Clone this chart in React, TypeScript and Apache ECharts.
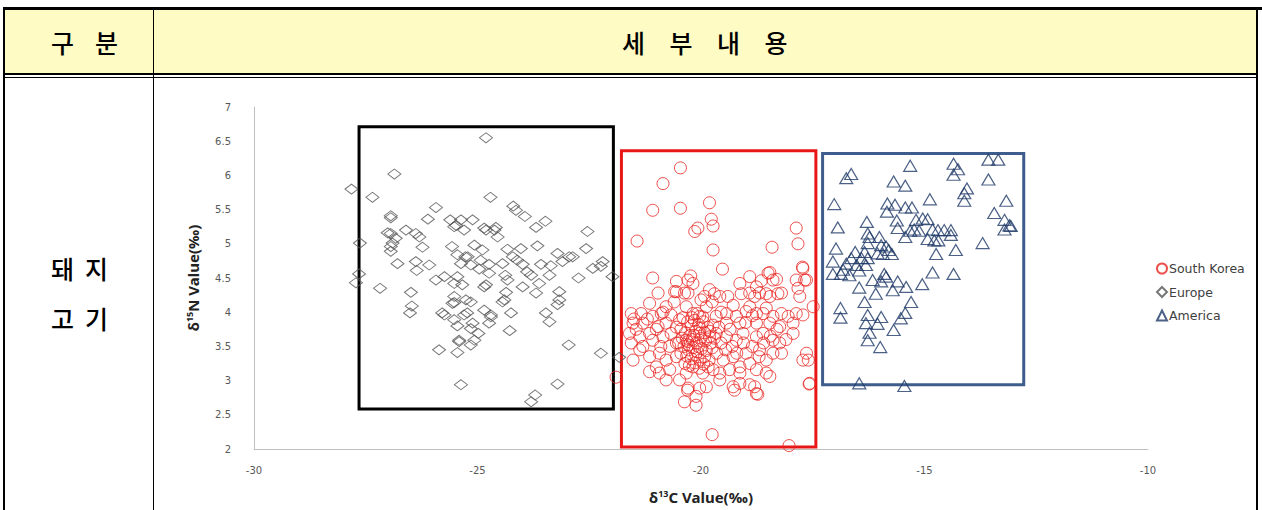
import React, { useEffect, useRef } from "react";
import * as echarts from "echarts";

// ---------- data (δ13C, δ15N) ----------
const seriesNames = ["South Korea", "Europe", "America"];

const southKorea: [number, number][] = [
  [-20.46, 6.11], [-20.85, 5.88], [-21.08, 5.49], [-20.46, 5.52], [-19.81, 5.6], [-19.77, 5.36], [-19.73, 5.26], [-20.14, 5.18], [-20.07, 5.23], [-21.43, 5.04],
  [-19.73, 4.91], [-17.87, 5.23], [-17.83, 5.0], [-18.41, 4.95], [-19.52, 4.63], [-17.73, 4.66], [-19.75, 2.21], [-18.03, 2.05],
  [-21.08, 4.5], [-20.55, 4.45], [-20.29, 4.47], [-20.18, 4.42], [-20.55, 4.3], [-20.29, 4.28], [-20.96, 4.28], [-21.15, 4.13], [-19.81, 4.33], [-19.92, 4.23],
  [-19.58, 4.23], [-19.13, 4.42], [-18.91, 4.52], [-18.76, 4.37], [-18.91, 4.28], [-18.5, 4.57], [-18.39, 4.47], [-18.2, 4.28], [-18.46, 4.23], [-18.69, 4.28],
  [-17.87, 4.47], [-17.72, 4.64], [-17.64, 4.47], [-17.83, 4.35], [-17.79, 4.23], [-17.49, 4.08],
  [-20.59, 4.3], [-20.37, 4.28], [-19.7, 4.27], [-19.4, 4.23], [-19.1, 4.27], [-18.8, 4.23], [-18.54, 4.27], [-18.28, 4.27],
  [-20.23, 4.53], [-18.65, 4.46], [-18.46, 4.58], [-18.31, 4.48], [-17.68, 4.47],
  [-21.56, 3.98], [-21.34, 3.98], [-21.52, 3.84], [-21.3, 3.84], [-21.08, 3.94], [-20.89, 3.98], [-20.67, 3.96], [-20.96, 3.79], [-20.78, 3.84], [-20.48, 3.89],
  [-20.18, 3.98], [-20.03, 3.94], [-19.66, 3.94], [-19.43, 3.98], [-19.21, 3.94], [-18.99, 4.01], [-18.76, 3.98], [-18.61, 3.98], [-18.39, 3.94], [-18.2, 3.98],
  [-18.05, 3.94], [-17.87, 3.98], [-17.72, 3.96], [-19.73, 3.81], [-19.43, 3.84], [-19.13, 3.84], [-18.76, 3.84], [-18.46, 3.84], [-18.24, 3.79], [-17.94, 3.84],
  [-20.78, 4.08], [-20.33, 4.08], [-19.88, 4.08], [-19.28, 4.1], [-18.91, 4.08], [-18.54, 4.06],
  [-21.6, 3.69], [-21.37, 3.64], [-21.15, 3.69], [-21.56, 3.55], [-21.3, 3.5], [-21.08, 3.59], [-20.85, 3.64], [-20.67, 3.69], [-20.55, 3.55], [-20.33, 3.59],
  [-20.03, 3.69], [-19.81, 3.64], [-19.66, 3.69], [-19.43, 3.64], [-19.21, 3.59], [-19.06, 3.69], [-18.76, 3.64], [-18.61, 3.69], [-18.39, 3.59], [-18.24, 3.55],
  [-17.94, 3.69], [-21.37, 3.45],
  [-21.52, 3.3], [-21.15, 3.35], [-21.0, 3.2], [-20.78, 3.3], [-21.15, 3.13], [-20.93, 3.11], [-20.7, 3.16], [-20.33, 3.11], [-20.18, 3.2], [-19.96, 3.11],
  [-19.73, 3.16], [-19.58, 3.11], [-19.36, 3.16], [-19.13, 3.2], [-18.91, 3.25], [-18.76, 3.16], [-18.54, 3.3], [-18.39, 3.4], [-18.2, 3.4], [-18.54, 3.11],
  [-17.64, 3.4], [-17.6, 3.3], [-17.72, 3.3], [-19.28, 3.35], [-18.99, 3.4], [-18.69, 3.45], [-20.55, 3.35], [-20.93, 3.4],
  [-20.48, 3.01], [-20.29, 2.89], [-20.03, 2.89], [-19.88, 2.91], [-19.58, 3.01], [-19.28, 2.91], [-19.13, 2.96], [-18.91, 2.94], [-18.8, 2.91], [-18.76, 2.81],
  [-18.46, 3.06], [-17.57, 2.96], [-20.37, 2.69], [-20.11, 2.64], [-20.11, 2.77], [-19.13, 3.11], [-20.78, 3.01],
  [-20.4, 3.92], [-20.3, 3.86], [-20.22, 3.8], [-20.15, 3.88], [-20.05, 3.82], [-19.95, 3.86], [-19.85, 3.78],
  [-20.45, 3.75], [-20.35, 3.7], [-20.25, 3.66], [-20.12, 3.72], [-20.02, 3.76], [-19.92, 3.7], [-19.8, 3.72],
  [-20.42, 3.62], [-20.3, 3.57], [-20.2, 3.6], [-20.1, 3.55], [-20.0, 3.62], [-19.9, 3.58], [-19.78, 3.55],
  [-20.38, 3.5], [-20.28, 3.45], [-20.18, 3.48], [-20.08, 3.42], [-19.98, 3.47], [-19.88, 3.44], [-19.75, 3.48],
  [-20.45, 3.4], [-20.32, 3.36], [-20.22, 3.32], [-20.12, 3.38], [-20.02, 3.3], [-19.92, 3.35], [-19.82, 3.3],
  [-20.36, 3.25], [-20.26, 3.22], [-20.14, 3.26], [-20.04, 3.18], [-19.94, 3.24], [-19.84, 3.2],
  [-20.2, 3.92], [-20.08, 3.98], [-19.96, 3.93], [-20.28, 3.52], [-20.16, 3.66], [-20.06, 3.5], [-19.7, 3.62], [-19.65, 3.4], [-19.6, 3.78],
  [-20.5, 3.55], [-20.55, 3.78], [-19.55, 3.55], [-19.5, 3.3], [-19.45, 3.45], [-19.35, 3.75], [-19.3, 3.5], [-19.2, 3.4], [-19.05, 3.55], [-18.85, 3.5],
  [-18.7, 3.35], [-18.6, 3.55], [-18.45, 3.65], [-18.3, 3.75], [-18.1, 3.6], [-19.0, 3.85], [-18.85, 3.95], [-19.55, 4.0], [-19.75, 4.15], [-20.0, 4.18],
  [-20.6, 4.15], [-20.85, 4.0], [-20.7, 3.5], [-20.9, 3.5], [-21.0, 3.75], [-21.2, 3.9], [-21.45, 3.75], [-21.5, 3.9], [-21.9, 3.05],
  [-18.73, 2.8], [-17.58, 2.95], [-20.3, 2.86], [-19.25, 2.86],
];

const europe: [number, number][] = [
  [-24.81, 6.55], [-26.86, 6.02], [-27.82, 5.8], [-27.35, 5.68], [-24.71, 5.68], [-25.93, 5.53], [-24.2, 5.55], [-24.14, 5.49], [-23.94, 5.4], [-26.94, 5.41], [-26.94, 5.38],
  [-26.11, 5.36], [-25.61, 5.35], [-25.37, 5.35], [-25.11, 5.35], [-23.48, 5.33], [-23.69, 5.24], [-25.48, 5.27], [-24.85, 5.23], [-24.59, 5.24], [-22.54, 5.18],
  [-26.94, 5.15], [-26.6, 5.2], [-26.38, 5.15], [-26.3, 5.1], [-26.83, 5.08], [-26.94, 4.96], [-26.94, 4.89], [-27.63, 5.01], [-26.23, 4.95], [-25.57, 4.96],
  [-25.07, 4.98], [-24.89, 4.91], [-24.33, 4.92], [-24.03, 4.93], [-23.66, 4.97], [-22.57, 4.93], [-23.21, 4.86], [-25.27, 4.81], [-24.21, 4.81], [-22.95, 4.81],
  [-26.79, 4.71], [-26.08, 4.69], [-25.37, 4.71], [-25.15, 4.69], [-24.96, 4.63], [-24.74, 4.7], [-24.44, 4.71], [-23.99, 4.7], [-23.58, 4.7], [-23.36, 4.68],
  [-23.1, 4.74], [-22.87, 4.81], [-22.2, 4.74], [-22.24, 4.67], [-22.42, 4.64], [-26.36, 4.61], [-27.65, 4.56], [-27.72, 4.43], [-27.18, 4.35], [-25.93, 4.47],
  [-25.74, 4.52], [-25.45, 4.52], [-25.34, 4.4], [-24.85, 4.37], [-24.38, 4.54], [-24.33, 4.47], [-23.99, 4.37], [-23.8, 4.54], [-23.62, 4.42], [-23.39, 4.54],
  [-23.69, 4.28], [-23.17, 4.3], [-22.74, 4.5], [-21.98, 4.52], [-26.49, 4.29], [-26.47, 4.09], [-26.51, 3.99], [-25.52, 4.23], [-25.52, 4.14], [-25.15, 4.15],
  [-24.85, 4.03], [-24.36, 4.29], [-24.44, 4.15], [-24.25, 3.99], [-23.17, 4.18], [-23.21, 4.11], [-25.74, 3.96], [-25.52, 3.89], [-25.3, 3.96], [-25.11, 3.84],
  [-24.7, 3.96], [-23.47, 3.99], [-23.39, 3.86], [-25.45, 3.8], [-25.15, 3.76], [-24.98, 3.69], [-25.41, 3.59], [-25.15, 3.52], [-25.86, 3.45], [-25.45, 3.41],
  [-24.28, 3.73], [-22.96, 3.52], [-22.24, 3.4], [-25.37, 2.94], [-23.21, 2.95], [-23.71, 2.79], [-23.8, 2.69], [-21.83, 3.34],
  [-23.89, 4.59], [-24.11, 4.76], [-24.62, 5.2], [-24.81, 5.2], [-24.55, 5.1], [-24.93, 4.76], [-24.74, 4.57], [-24.81, 4.4], [-24.4, 4.18], [-24.7, 3.93],
  [-24.74, 3.84], [-25.07, 3.59], [-27.01, 5.16], [-26.9, 5.01], [-26.38, 4.74], [-25.52, 4.42], [-25.56, 4.13], [-25.26, 4.18], [-25.79, 3.99], [-25.23, 3.99],
  [-25.41, 3.57], [-25.52, 5.25], [-25.3, 5.2], [-25.45, 4.84], [-25.22, 4.81],
];

const america: [number, number][] = [
  [-15.32, 6.14], [-14.35, 6.17], [-14.25, 6.09], [-14.35, 6.01], [-13.57, 6.23], [-13.35, 6.23], [-16.64, 6.02], [-16.75, 5.96], [-15.69, 5.91], [-15.43, 5.85],
  [-13.57, 5.94], [-14.05, 5.81], [-14.11, 5.74], [-14.11, 5.63], [-14.88, 5.65], [-13.17, 5.63], [-17.02, 5.58], [-15.83, 5.59], [-15.66, 5.57], [-15.43, 5.53],
  [-15.28, 5.53], [-15.84, 5.47], [-15.04, 5.37], [-14.93, 5.36], [-15.19, 5.35], [-15.23, 5.21], [-15.32, 5.19], [-15.12, 5.19], [-15.62, 5.34], [-15.6, 5.23],
  [-16.29, 5.32], [-14.82, 5.21], [-14.7, 5.2], [-14.56, 5.2], [-13.44, 5.45], [-13.21, 5.35], [-13.1, 5.27], [-13.21, 5.21], [-13.07, 5.26], [-16.94, 5.24],
  [-14.41, 5.2], [-14.41, 5.13], [-14.93, 5.07], [-14.78, 5.05], [-15.43, 5.1], [-16.27, 5.15], [-16.23, 5.1], [-16.01, 5.1], [-15.97, 4.98], [-16.27, 5.01],
  [-16.34, 4.88], [-15.86, 4.96], [-15.8, 4.91], [-15.93, 4.85], [-15.73, 4.85], [-16.05, 4.86], [-14.69, 5.05], [-14.3, 4.91], [-13.7, 5.01], [-14.74, 4.85],
  [-16.98, 4.93], [-16.55, 4.88], [-16.64, 4.79], [-16.41, 4.79], [-16.52, 4.69], [-16.75, 4.71], [-16.82, 4.62], [-17.05, 4.74], [-17.05, 4.56], [-16.87, 4.56],
  [-16.68, 4.54], [-16.46, 4.61], [-16.27, 4.79], [-16.31, 4.69], [-15.9, 4.56], [-15.86, 4.52], [-15.97, 4.45], [-16.16, 4.47], [-15.6, 4.45], [-15.41, 4.37],
  [-15.71, 4.32], [-15.05, 4.41], [-14.82, 4.58], [-14.35, 4.56], [-16.46, 4.36], [-16.09, 4.27], [-16.34, 4.15], [-15.3, 4.15], [-16.88, 4.06], [-16.88, 3.92],
  [-15.43, 3.99], [-15.53, 3.91], [-16.27, 3.96], [-15.97, 3.93], [-16.31, 3.84], [-16.05, 3.83], [-15.69, 3.74], [-16.23, 3.7], [-16.27, 3.59], [-15.99, 3.49],
  [-16.46, 2.96], [-15.45, 2.92],
];

// group boxes: [[xMin, yMin], [xMax, yMax]]
const boxKorea = [[-21.78, 2.03], [-17.43, 6.36]];
const boxEurope = [[-27.65, 2.585], [-21.96, 6.71]];
const boxAmerica = [[-17.28, 2.94], [-12.78, 6.32]];

const headerLeft = "구분";
const headerRight = "세부내용";
const rowLabel = ["돼지", "고기"];

const tickFont = "'DejaVu Sans', Verdana, sans-serif";
const titleFont = "'Noto Sans', sans-serif";

function Chart() {
  const ref = useRef<HTMLDivElement>(null);
  useEffect(() => {
    if (!ref.current) return;
    const chart = echarts.init(ref.current, null, { renderer: "svg" });
    const area = (b: number[][], color: string) => ({
      silent: true,
      itemStyle: { color: "rgba(0,0,0,0)", borderColor: color, borderWidth: 3 },
      data: [[{ coord: b[0] }, { coord: b[1] }]],
    });
    const titleRich = {
      a: { fontFamily: titleFont, fontSize: 15, fontWeight: "bold", color: "#222" },
      s: { fontFamily: titleFont, fontSize: 9, fontWeight: "bold", color: "#222", padding: [0, 0, 6, 0] },
    };
    chart.setOption({
      animation: false,
      backgroundColor: "rgba(0,0,0,0)",
      grid: { left: 254, top: 107, width: 894, height: 342, containLabel: false, outerBoundsMode: "none" },
      legend: {
        orient: "vertical",
        left: 1151,
        top: 257,
        itemWidth: 10,
        itemHeight: 10,
        itemGap: 10.5,
        data: seriesNames,
        textStyle: { fontFamily: tickFont, fontSize: 12.5, color: "#404040", padding: [0, 0, 0, -3] },
      },
      xAxis: {
        type: "value",
        min: -30,
        max: -10,
        interval: 5,
        axisLine: { lineStyle: { color: "#bfbfbf", width: 1 } },
        axisTick: { show: false },
        splitLine: { show: false },
        axisLabel: { fontFamily: tickFont, fontSize: 10, color: "#595959", margin: 16 },
        name: "{a|δ}{s|13}{a|C Value(‰)}",
        nameLocation: "middle",
        nameGap: 40,
        nameTextStyle: { rich: titleRich },
      },
      yAxis: {
        type: "value",
        min: 2,
        max: 7,
        interval: 0.5,
        axisLine: { show: true, lineStyle: { color: "#bfbfbf", width: 1 } },
        axisTick: { show: false },
        splitLine: { show: false },
        axisLabel: { fontFamily: tickFont, fontSize: 10, color: "#595959", margin: 23 },
        name: "{a|δ}{s|15}{a|N Value(‰)}",
        nameLocation: "middle",
        nameGap: 54,
        nameTextStyle: { rich: titleRich },
      },
      series: [
        {
          name: seriesNames[0],
          type: "scatter",
          data: southKorea,
          symbol: "circle",
          symbolSize: 12,
          itemStyle: { color: "rgba(255,255,255,0)", borderColor: "#e8231f", borderWidth: 1 },
          markArea: area(boxKorea, "#e81717"),
          z: 3,
        },
        {
          name: seriesNames[1],
          type: "scatter",
          data: europe,
          symbol: "diamond",
          symbolSize: [13, 10],
          itemStyle: { color: "rgba(255,255,255,0)", borderColor: "#555555", borderWidth: 1 },
          markArea: area(boxEurope, "#000000"),
          z: 2,
        },
        {
          name: seriesNames[2],
          type: "scatter",
          data: america,
          symbol: "triangle",
          symbolSize: [13, 11],
          itemStyle: { color: "rgba(255,255,255,0)", borderColor: "#1f3a68", borderWidth: 1.2 },
          markArea: area(boxAmerica, "#3e5d8c"),
          z: 2,
        },
      ],
    });
    return () => chart.dispose();
  }, []);
  return <div ref={ref} style={{ position: "absolute", left: 0, top: 0, width: 1262, height: 510 }} />;
}

export default function App() {
  const korFont = "'Noto Sans CJK KR', sans-serif";
  const line = (s: React.CSSProperties) => <div style={{ position: "absolute", background: "#000", ...s }} />;
  const txt: React.CSSProperties = { position: "absolute", fontFamily: korFont, fontSize: 25, fontWeight: 500, color: "#000", lineHeight: "30px", whiteSpace: "nowrap" };
  return (
    <div style={{ position: "fixed", left: 0, top: 0, width: 1262, height: 510, background: "#fff", overflow: "hidden" }}>
      <div style={{ position: "absolute", left: 4, top: 10, width: 1253, height: 64, background: "#fefbc4" }} />
      {line({ left: 3, top: 7, width: 1259, height: 3 })}
      {line({ left: 3, top: 7, width: 2, height: 503 })}
      {line({ left: 1256, top: 7, width: 2, height: 503 })}
      {line({ left: 153, top: 10, width: 1, height: 500 })}
      {line({ left: 3, top: 73, width: 1255, height: 2 })}
      {line({ left: 3, top: 77, width: 1255, height: 1 })}
      <div style={{ ...txt, left: 51, top: 27, letterSpacing: 21 }}>{headerLeft}</div>
      <div style={{ ...txt, left: 622, top: 27, letterSpacing: 24.5 }}>{headerRight}</div>
      {rowLabel.map((t, i) => (
        <div key={t} style={{ ...txt, left: 51, top: 253 + i * 50, letterSpacing: 11 }}>
          {t}
        </div>
      ))}
      <Chart />
    </div>
  );
}
